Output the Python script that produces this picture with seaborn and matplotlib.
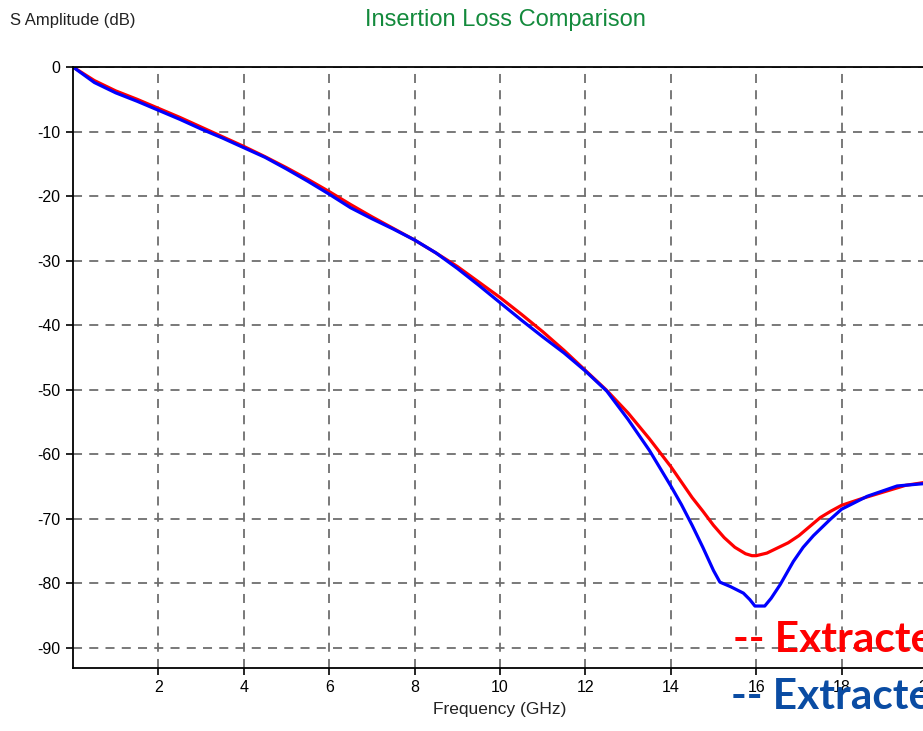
import matplotlib
matplotlib.use("Agg")
import matplotlib.pyplot as plt
import seaborn as sns
import pandas as pd

# ---- data ----
freq_red = [0, 0.5, 1, 1.5, 2, 2.5, 3, 3.5, 4, 4.5, 5, 5.5, 6, 6.5, 7, 7.5, 8, 8.5, 9, 9.5,
            10, 10.5, 11, 11.5, 12, 12.5, 13, 13.5, 14, 14.25, 14.5, 14.75, 15, 15.25, 15.5,
            15.75, 15.9, 16, 16.25, 16.5, 16.75, 17, 17.25, 17.5, 17.75, 18, 18.5, 19, 19.5, 20]
amp_red = [0, -2.1, -3.7, -5.0, -6.4, -7.8, -9.3, -10.8, -12.3, -13.9, -15.6, -17.4, -19.3,
           -21.3, -23.2, -25.0, -26.8, -28.8, -30.9, -33.3, -35.7, -38.3, -41.0, -43.9, -47.0,
           -50.1, -53.6, -57.6, -61.9, -64.3, -66.7, -68.8, -71.0, -72.9, -74.4, -75.4, -75.7,
           -75.7, -75.3, -74.5, -73.7, -72.6, -71.2, -69.8, -68.8, -67.9, -66.8, -65.8, -64.8,
           -64.3]

freq_blue = [0, 0.5, 1, 1.5, 2, 2.5, 3, 3.5, 4, 4.5, 5, 5.5, 6, 6.5, 7, 7.5, 8, 8.5, 9, 9.5,
             10, 10.5, 11, 11.5, 12, 12.5, 13, 13.5, 14, 14.25, 14.5, 14.75, 15, 15.15, 15.4,
             15.7, 15.85, 15.97, 16.2, 16.35, 16.56, 16.87, 17.1, 17.34, 17.73, 18, 18.6, 19.3,
             20]
amp_blue = [0, -2.4, -4.0, -5.3, -6.7, -8.1, -9.6, -11.0, -12.5, -14.0, -15.8, -17.7, -19.7,
            -21.8, -23.5, -25.1, -26.8, -28.8, -31.2, -33.8, -36.5, -39.2, -41.8, -44.3, -47.1,
            -50.2, -54.6, -59.4, -64.9, -67.8, -71.0, -74.4, -78.0, -79.8, -80.5, -81.5, -82.5,
            -83.5, -83.5, -82.3, -80.2, -76.6, -74.4, -72.6, -70.1, -68.5, -66.5, -64.9, -64.5]

series_names = ["Extracted A", "Extracted B"]
x_ticks = [2, 4, 6, 8, 10, 12, 14, 16, 18, 20]
y_ticks = [0, -10, -20, -30, -40, -50, -60, -70, -80, -90]

df = pd.concat([
    pd.DataFrame({"Frequency": freq_red, "Amp": amp_red, "Series": series_names[0]}),
    pd.DataFrame({"Frequency": freq_blue, "Amp": amp_blue, "Series": series_names[1]}),
])

sns.set_style("white")
plt.rcParams["font.family"] = ["Liberation Sans", "DejaVu Sans"]

fig = plt.figure(figsize=(9.23, 7.31), dpi=100)
ax = fig.add_axes([73 / 923, 1 - 668 / 731, 854 / 923, (668 - 67) / 731])

sns.lineplot(data=df, x="Frequency", y="Amp", hue="Series",
             palette={series_names[0]: "#ff0000", series_names[1]: "#0000ff"},
             linewidth=2.3, legend=False, ax=ax, sort=False, estimator=None)

ax.set_xlim(0, 20)
ax.set_ylim(-93.1, 0)
ax.set_xticks(x_ticks)
ax.set_yticks(y_ticks)
ax.set_xticklabels([str(t) for t in x_ticks])
ax.set_yticklabels([str(t) for t in y_ticks])
ax.grid(True, color="#6e6e6e", linestyle=(0, (5, 4)), linewidth=1.3)
ax.set_axisbelow(True)
for s in ["left", "bottom", "top"]:
    ax.spines[s].set_color("black")
    ax.spines[s].set_linewidth(1.3)
ax.spines["right"].set_visible(False)
ax.tick_params(axis="both", direction="out", length=5, width=1.2, colors="black",
               labelsize=11.5, pad=4, left=True, bottom=True)

ax.set_xlabel("Frequency (GHz)", fontsize=12.5, color="#222222", labelpad=5)
ax.set_ylabel("")
fig.text(10 / 923, 1 - 20 / 731, "S Amplitude (dB)", fontsize=12, color="#222222",
         ha="left", va="center")
fig.text(505 / 923, 1 - 20 / 731, "Insertion Loss Comparison", fontsize=17,
         color="#138a3c", ha="center", va="center")

fig.text(733 / 923, 1 - 640 / 731, "-- Extracted", fontsize=30.5, fontweight="bold",
         color="#ff0000", family=["Lato", "DejaVu Sans"], ha="left", va="center")
fig.text(731 / 923, 1 - 697 / 731, "-- Extracted", fontsize=30.5, fontweight="bold",
         color="#0a4ca3", family=["Lato", "DejaVu Sans"], ha="left", va="center")

fig.savefig("out.png", dpi=100)
